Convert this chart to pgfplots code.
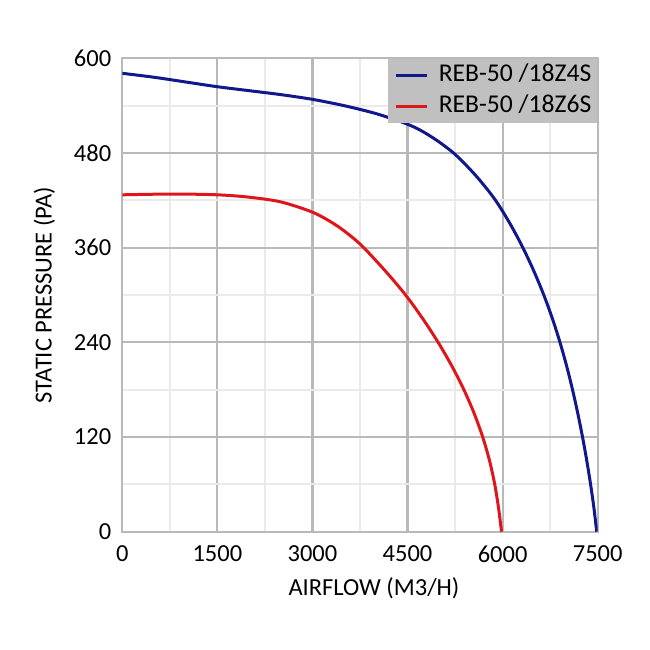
\documentclass[border=0pt]{standalone}
\usepackage{pgfplots}
\pgfplotsset{compat=1.18}
\usepackage{fontspec}
\setmainfont{Carlito}
\definecolor{gridmaj}{RGB}{185,185,185}
\definecolor{gridmin}{RGB}{234,234,234}
\definecolor{curveblue}{RGB}{16,24,140}
\definecolor{curvered}{RGB}{222,22,28}
\definecolor{legfill}{RGB}{192,192,192}
\begin{document}
\begin{tikzpicture}
\path[use as bounding box] (-61.15pt,-59.15pt) rectangle (263.85pt,265.85pt);
\begin{axis}[
  at={(0,0)}, anchor=south west,
  scale only axis, width=237.7pt, height=236.7pt,
  xmin=0, xmax=7500, ymin=0, ymax=600,
  xtick={0,1500,...,7500}, ytick={0,120,...,600},
  minor x tick num=1, minor y tick num=1,
  grid=both,
  major grid style={draw=gridmaj, line width=1.1pt},
  minor grid style={draw=gridmin, line width=1pt},
  axis line style={draw=gridmaj, line width=1.1pt},
  major tick length=0pt, minor tick length=0pt,
  tick label style={font=\fontsize{12.25}{14}\selectfont},
  /pgf/number format/assume math mode=true,
  /pgf/number format/set thousands separator={},
  xticklabel shift=3.5pt,
  yticklabel shift=2pt,
  xlabel={AIRFLOW (M3/H)}, ylabel={STATIC PRESSURE (PA)},
  label style={font=\fontsize{12.25}{14}\selectfont},
  xlabel style={at={([xshift=7pt,yshift=-28.2pt]axis description cs:0.5,0)}, anchor=center},
  ylabel style={at={([xshift=-39pt]axis description cs:0,0.5)}, anchor=center},
  legend cell align=left,
  legend image code/.code={\draw[#1, line width=1.5pt] (0pt,0pt) -- (15.8pt,0pt);},
  legend style={at={(1,1)}, anchor=north east, draw=none, fill=legfill,
    font=\fontsize{12.8}{14}\selectfont, inner xsep=3pt, inner ysep=2.5pt,
    row sep=4pt, nodes={inner sep=0pt, text height=9pt, text depth=2.5pt}},
]
\addplot[curveblue, line width=1.5pt, smooth] coordinates {
 (0,581) (500,576) (1000,570) (1500,564) (2000,559) (2500,554) (3000,548)
 (3500,540) (4000,530) (4450,518) (4700,509) (4980,495) (5268,477) (5592,450)
 (5880,421) (6120,390) (6320,360) (6495,330) (6650,300) (6786,270) (6905,240)
 (7010,210) (7103,180) (7186,150) (7261,120) (7328,90) (7388,60) (7441,30) (7484,0)};
\addlegendentry{\hspace{5pt}REB-50 /18Z4S}
\addplot[curvered, line width=1.5pt, smooth] coordinates {
 (0,427) (800,428) (1500,427) (2000,424) (2500,418) (3000,405) (3345,390)
 (3600,375) (3810,360) (4155,330) (4470,300) (4740,270) (4983,240) (5199,210)
 (5389,180) (5551,150) (5686,120) (5794,90) (5876,60) (5936,30) (5983,0)};
\addlegendentry{\hspace{5pt}REB-50 /18Z6S}
\end{axis}
\end{tikzpicture}
\end{document}
